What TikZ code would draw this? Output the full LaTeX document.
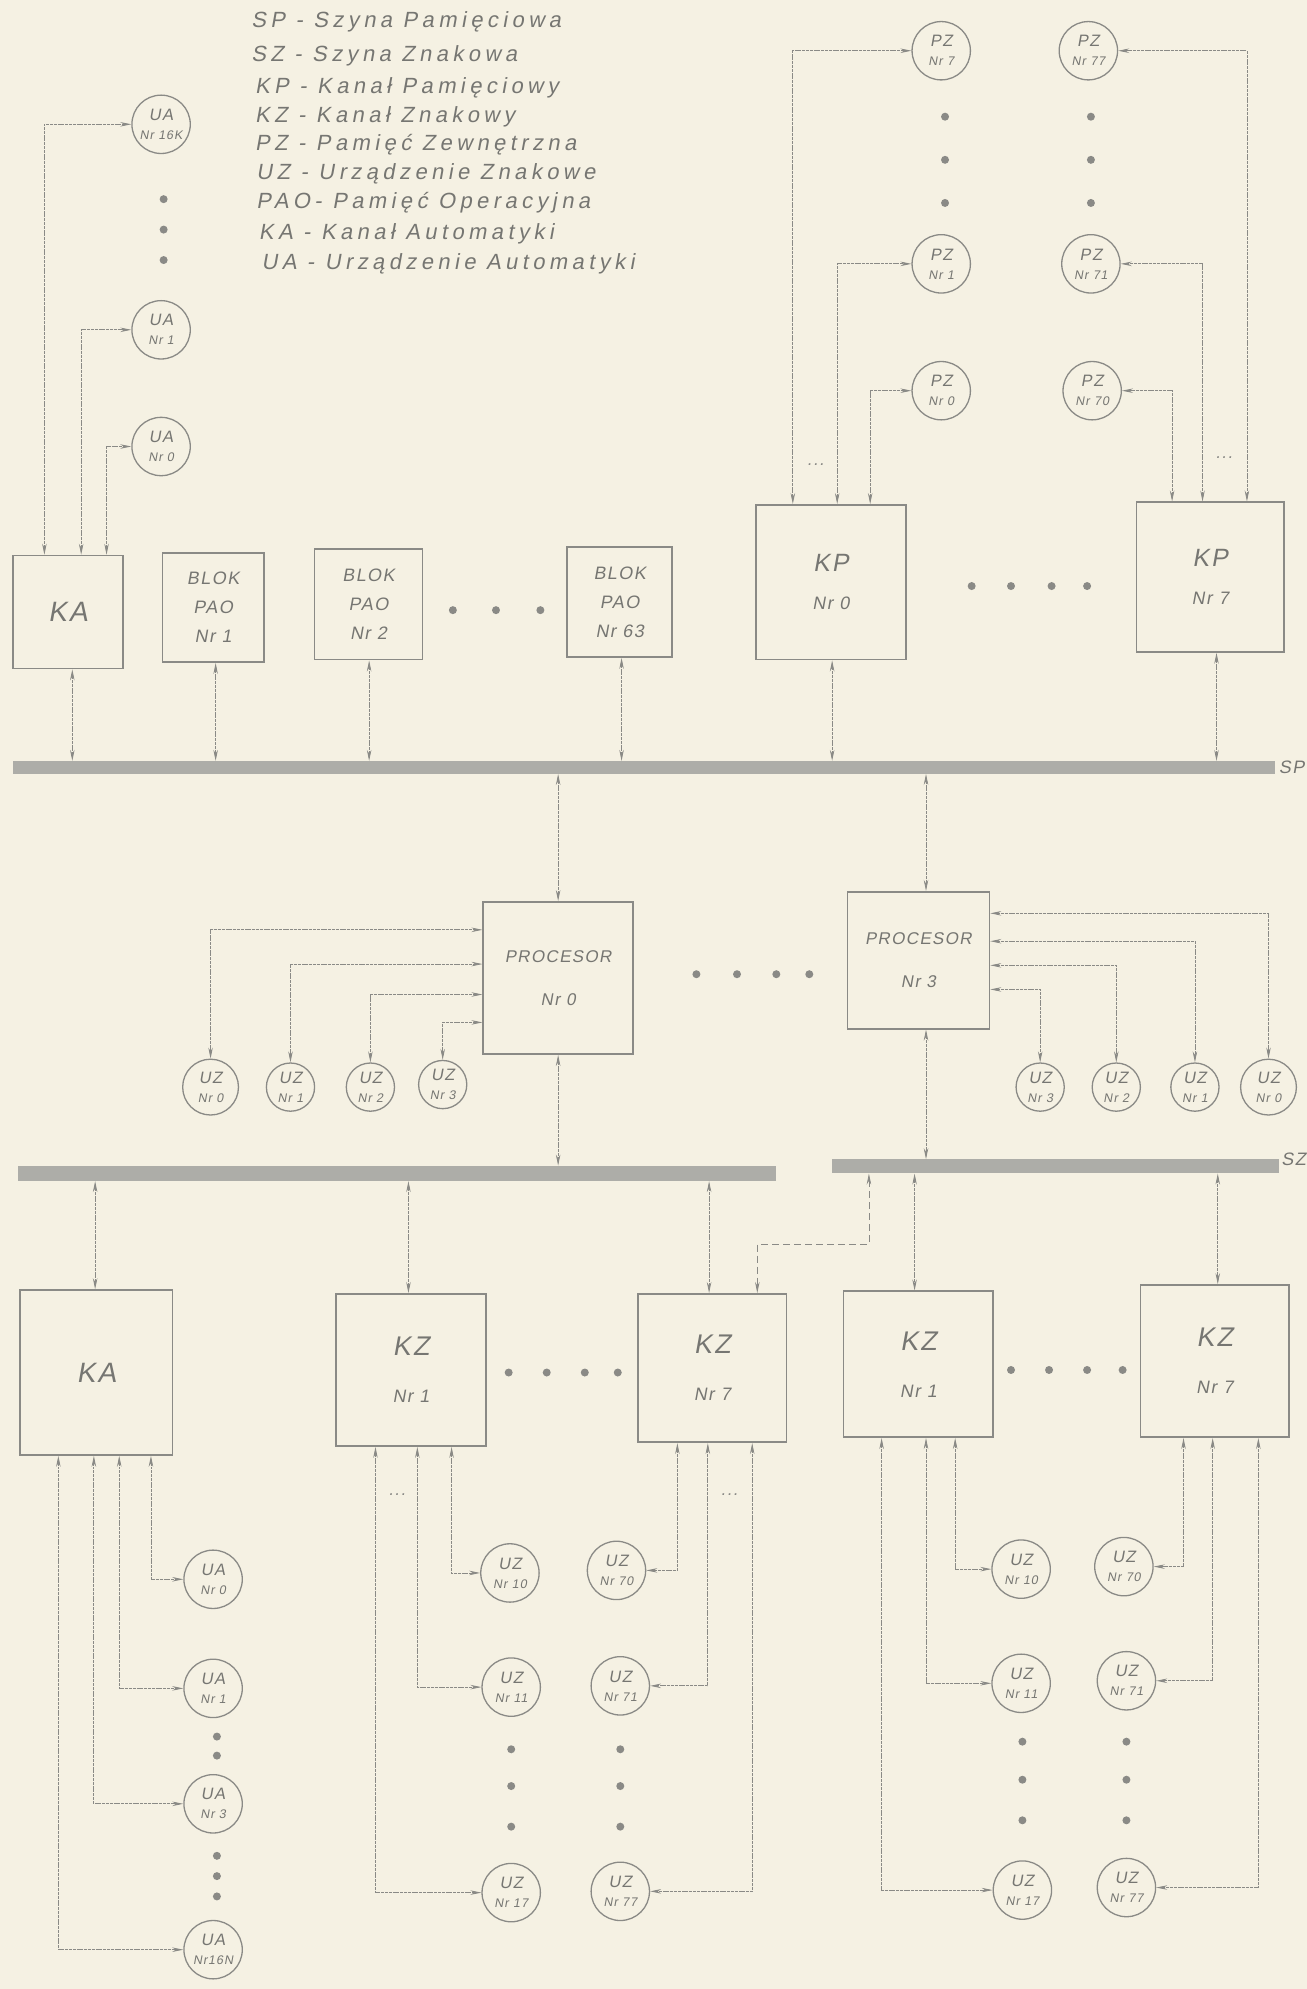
\documentclass[tikz,border=0pt]{standalone}
\usepackage{fontspec}
\newfontfamily\hw{Liberation Sans}[FakeSlant=0.18,LetterSpace=20]
\newfontfamily\hb{Liberation Sans}[FakeSlant=0.18,LetterSpace=8]
\usetikzlibrary{arrows.meta}
\definecolor{bg}{HTML}{F5F1E3}
\definecolor{lc}{HTML}{8A8A86}
\definecolor{tc}{HTML}{767672}
\definecolor{busc}{HTML}{ADADA8}
\newcommand\szA{\fontsize{28}{30}\selectfont}
\newcommand\szC{\fontsize{16.5}{18}\selectfont}
\newcommand\szE{\fontsize{25}{30}\selectfont}
\newcommand\szG{\fontsize{27}{30}\selectfont}
\begin{document}
\begin{tikzpicture}[x=1.269pt,y=-1.269pt,
  bx/.style 2 args={draw=lc,line width=1.7pt,rectangle,minimum width=#1*1.269pt,minimum height=#2*1.269pt,inner sep=0pt,align=center,text=tc,font=\hb},
  cr/.style={draw=lc,line width=1.3pt,circle,minimum size=#1*2.538pt,inner sep=0pt,align=center,text=tc,font=\hb\fontsize{12.5}{19}\selectfont},
  tB/.style={font=\hb\fontsize{18}{29}\selectfont},
  tK/.style={font=\hb\fontsize{18}{38}\selectfont},
  tP/.style={font=\hb\fontsize{17}{43}\selectfont},
  tZ/.style={font=\hb\fontsize{18}{47}\selectfont},
  ln/.style={draw=lc,line width=0.8pt,dash pattern=on 3pt off 0.8pt,{Stealth[length=11pt,width=4.5pt]}-{Stealth[length=11pt,width=4.5pt]}},
  dt/.style={fill=lc,circle,inner sep=0pt,minimum size=8pt},
  bus/.style 2 args={fill=busc,rectangle,inner sep=0pt,minimum width=#1*1.269pt,minimum height=#2*1.269pt},
  lg/.style={text=tc,font=\hw\fontsize{22}{24}\selectfont,inner sep=0pt,anchor=west},
  ell/.style={text=lc,font=\hb\fontsize{17}{17}\selectfont,inner sep=0pt},
  bl/.style={text=tc,font=\hb\fontsize{18}{20}\selectfont,inner sep=0pt,anchor=west}
]
\fill[bg] (0,0) rectangle (1030,1568);
\foreach \v in {35,64,84,57,170,291,490,656,959,625,660,686,983,948,924,440,730,75,74,322,559,597,685,721,960,119,94,46,356,329,296,534,558,593,753,730,695,933,956,992}
  \coordinate (x\v) at (\v,0);
\foreach \v in {733,760,784,806,720,742,761,780}
  \coordinate (y\v) at (0,\v);
\coordinate (dj) at (597,981);

% legend
\node[lg] (l1) at (198,17) {SP - Szyna Pamięciowa};
\node[lg] (l2) at (198,44) {SZ - Szyna Znakowa};
\node[lg] (l3) at (201,69) {KP - Kanał Pamięciowy};
\node[lg] (l4) at (201,92) {KZ - Kanał Znakowy};
\node[lg] (l5) at (201,114) {PZ - Pamięć Zewnętrzna};
\node[lg] (l6) at (202,137) {UZ - Urządzenie Znakowe};
\node[lg] (l7) at (202,160) {PAO- Pamięć Operacyjna};
\node[lg] (l8) at (204,184) {KA - Kanał Automatyki};
\node[lg] (l9) at (206,208) {UA - Urządzenie Automatyki};

% top row of boxes
\node[bx={87}{89}] (kat) at (53.5,482.5) {\szA KA};
\node[bx={80}{86},tB] (pao1) at (168,479) {BLOK\\PAO\\Nr 1};
\node[bx={85}{87},tB] (pao2) at (290.5,476.5) {BLOK\\PAO\\Nr 2};
\node[bx={83}{87},tB] (pao63) at (488.5,474.5) {BLOK\\PAO\\Nr 63};
\node[bx={118}{122},tK] (kp0) at (655,459) {\szE KP\\Nr 0};
\node[bx={116}{118},tK] (kp7) at (954,455) {\szE KP\\Nr 7};
\node[dt] (da1) at (357,481) {};
\node[dt] (da2) at (391,481) {};
\node[dt] (da3) at (426,481) {};
\node[dt] (db1) at (766,462) {};
\node[dt] (db2) at (797,462) {};
\node[dt] (db3) at (829,462) {};
\node[dt] (db4) at (857,462) {};

% top UA
\node[cr=23] (ua16) at (127,98) {\szC UA\\Nr 16K};
\node[cr=23] (ua1) at (127,260) {\szC UA\\Nr 1};
\node[cr=23] (ua0) at (127,352) {\szC UA\\Nr 0};
\node[dt] (dc1) at (129,157) {};
\node[dt] (dc2) at (129,181) {};
\node[dt] (dc3) at (129,205) {};
\draw[ln] (kat.north -| x35) |- (ua16.west);
\draw[ln] (kat.north -| x64) |- (ua1.west);
\draw[ln] (kat.north -| x84) |- (ua0.west);

% PZ
\node[cr=23] (pz7) at (742,40) {\szC PZ\\Nr 7};
\node[cr=23] (pz1) at (742,208) {\szC PZ\\Nr 1};
\node[cr=23] (pz0) at (742,308) {\szC PZ\\Nr 0};
\node[cr=23] (pz77) at (858,40) {\szC PZ\\Nr 77};
\node[cr=23] (pz71) at (860,208) {\szC PZ\\Nr 71};
\node[cr=23] (pz70) at (861,308) {\szC PZ\\Nr 70};
\node[dt] (dd1) at (745,92) {};
\node[dt] (dd2) at (745,126) {};
\node[dt] (dd3) at (745,160) {};
\node[dt] (de1) at (860,92) {};
\node[dt] (de2) at (860,126) {};
\node[dt] (de3) at (860,160) {};
\draw[ln] (kp0.north -| x625) |- (pz7.west);
\draw[ln] (kp0.north -| x660) |- (pz1.west);
\draw[ln] (kp0.north -| x686) |- (pz0.west);
\draw[ln] (kp7.north -| x983) |- (pz77.east);
\draw[ln] (kp7.north -| x948) |- (pz71.east);
\draw[ln] (kp7.north -| x924) |- (pz70.east);
\node[ell] (e1) at (643,366) {...};
\node[ell] (e2) at (965,361) {...};

% SP bus
\node[bus={995}{10}] (sp) at (507.5,605) {};
\node[bl] (spl) at (1008,605) {SP};
\draw[ln] (kat.south -| x57) -- (sp.north -| x57);
\draw[ln] (pao1.south -| x170) -- (sp.north -| x170);
\draw[ln] (pao2.south -| x291) -- (sp.north -| x291);
\draw[ln] (pao63.south -| x490) -- (sp.north -| x490);
\draw[ln] (kp0.south -| x656) -- (sp.north -| x656);
\draw[ln] (kp7.south -| x959) -- (sp.north -| x959);

% processors
\node[bx={118}{120},tP] (p0) at (440,771) {PROCESOR\\Nr 0};
\node[bx={112}{108},tP] (p3) at (724,757) {PROCESOR\\Nr 3};
\node[dt] (df1) at (549,768) {};
\node[dt] (df2) at (581,768) {};
\node[dt] (df3) at (612,768) {};
\node[dt] (df4) at (638,768) {};
\draw[ln] (sp.south -| x440) -- (p0.north -| x440);
\draw[ln] (sp.south -| x730) -- (p3.north -| x730);

\node[cr=22] (uzl0) at (166,857) {\szC UZ\\Nr 0};
\node[cr=19] (uzl1) at (229,857) {\szC UZ\\Nr 1};
\node[cr=19] (uzl2) at (292,857) {\szC UZ\\Nr 2};
\node[cr=19] (uzl3) at (349,855) {\szC UZ\\Nr 3};
\draw[ln] (p0.west |- y733) -| (uzl0.north);
\draw[ln] (p0.west |- y760) -| (uzl1.north);
\draw[ln] (p0.west |- y784) -| (uzl2.north);
\draw[ln] (p0.west |- y806) -| (uzl3.north);

\node[cr=19] (uzr3) at (820,857) {\szC UZ\\Nr 3};
\node[cr=19] (uzr2) at (880,857) {\szC UZ\\Nr 2};
\node[cr=19] (uzr1) at (942,857) {\szC UZ\\Nr 1};
\node[cr=22] (uzr0) at (1000,857) {\szC UZ\\Nr 0};
\draw[ln] (p3.east |- y720) -| (uzr0.north);
\draw[ln] (p3.east |- y742) -| (uzr1.north);
\draw[ln] (p3.east |- y761) -| (uzr2.north);
\draw[ln] (p3.east |- y780) -| (uzr3.north);

% SZ buses
\node[bus={598}{12}] (szl) at (313,925) {};
\node[bus={352}{11}] (szr) at (832,919.5) {};
\node[bl] (szlbl) at (1010,914) {SZ};
\draw[ln] (p0.south -| x440) -- (szl.north -| x440);
\draw[ln] (p3.south -| x730) -- (szr.north -| x730);

% bottom boxes
\node[bx={120}{130}] (kab) at (76,1082) {\szA KA};
\node[bx={118}{120},tZ] (kz1) at (324,1080) {\szG KZ\\Nr 1};
\node[bx={117}{117},tZ] (kz7) at (561.5,1078.5) {\szG KZ\\Nr 7};
\node[bx={118}{115},tZ] (kz1r) at (724,1075.5) {\szG KZ\\Nr 1};
\node[bx={117}{120},tZ] (kz7r) at (957.5,1073) {\szG KZ\\Nr 7};
\node[dt] (dg1) at (401,1082) {};
\node[dt] (dg2) at (431,1082) {};
\node[dt] (dg3) at (461,1082) {};
\node[dt] (dg4) at (487,1082) {};
\node[dt] (dh1) at (797,1080) {};
\node[dt] (dh2) at (827,1080) {};
\node[dt] (dh3) at (857,1080) {};
\node[dt] (dh4) at (885,1080) {};
\draw[ln] (szl.south -| x75) -- (kab.north -| x75);
\draw[ln] (szl.south -| x322) -- (kz1.north -| x322);
\draw[ln] (szl.south -| x559) -- (kz7.north -| x559);
\draw[ln] (szr.south -| x721) -- (kz1r.north -| x721);
\draw[ln] (szr.south -| x960) -- (kz7r.north -| x960);
\draw[ln,dash pattern=on 7pt off 4pt] (szr.south -| x685) |- (dj) -- (kz7.north -| dj);

% bottom UA
\node[cr=23] (ua0b) at (168,1245) {\szC UA\\Nr 0};
\node[cr=23] (ua1b) at (168,1331) {\szC UA\\Nr 1};
\node[cr=23] (ua3b) at (168,1422) {\szC UA\\Nr 3};
\node[cr=23] (ua16b) at (168,1537) {\szC UA\\Nr16N};
\node[dt] (di1) at (171,1369) {};
\node[dt] (di2) at (171,1384) {};
\node[dt] (di3) at (171,1463) {};
\node[dt] (di4) at (171,1479) {};
\node[dt] (di5) at (171,1495) {};
\draw[ln] (kab.south -| x119) |- (ua0b.west);
\draw[ln] (kab.south -| x94) |- (ua1b.west);
\draw[ln] (kab.south -| x74) |- (ua3b.west);
\draw[ln] (kab.south -| x46) |- (ua16b.west);

% bottom UZ left group
\node[cr=23] (uz10) at (402,1240) {\szC UZ\\Nr 10};
\node[cr=23] (uz11) at (403,1330) {\szC UZ\\Nr 11};
\node[cr=23] (uz17) at (403,1492) {\szC UZ\\Nr 17};
\node[cr=23] (uz70) at (486,1238) {\szC UZ\\Nr 70};
\node[cr=23] (uz71) at (489,1329) {\szC UZ\\Nr 71};
\node[cr=23] (uz77) at (489,1491) {\szC UZ\\Nr 77};
\node[dt] (dj1) at (403,1379) {};
\node[dt] (dj2) at (403,1408) {};
\node[dt] (dj3) at (403,1440) {};
\node[dt] (dk1) at (489,1379) {};
\node[dt] (dk2) at (489,1408) {};
\node[dt] (dk3) at (489,1440) {};
\draw[ln] (kz1.south -| x356) |- (uz10.west);
\draw[ln] (kz1.south -| x329) |- (uz11.west);
\draw[ln] (kz1.south -| x296) |- (uz17.west);
\draw[ln] (kz7.south -| x534) |- (uz70.east);
\draw[ln] (kz7.south -| x558) |- (uz71.east);
\draw[ln] (kz7.south -| x593) |- (uz77.east);
\node[ell] (e3) at (313,1178) {...};
\node[ell] (e4) at (575,1178) {...};

% bottom UZ right group
\node[cr=23] (uz10r) at (805,1237) {\szC UZ\\Nr 10};
\node[cr=23] (uz11r) at (805,1327) {\szC UZ\\Nr 11};
\node[cr=23] (uz17r) at (806,1490) {\szC UZ\\Nr 17};
\node[cr=23] (uz70r) at (886,1235) {\szC UZ\\Nr 70};
\node[cr=23] (uz71r) at (888,1325) {\szC UZ\\Nr 71};
\node[cr=23] (uz77r) at (888,1488) {\szC UZ\\Nr 77};
\node[dt] (dl1) at (806,1373) {};
\node[dt] (dl2) at (806,1403) {};
\node[dt] (dl3) at (806,1435) {};
\node[dt] (dm1) at (888,1373) {};
\node[dt] (dm2) at (888,1403) {};
\node[dt] (dm3) at (888,1435) {};
\draw[ln] (kz1r.south -| x753) |- (uz10r.west);
\draw[ln] (kz1r.south -| x730) |- (uz11r.west);
\draw[ln] (kz1r.south -| x695) |- (uz17r.west);
\draw[ln] (kz7r.south -| x933) |- (uz70r.east);
\draw[ln] (kz7r.south -| x956) |- (uz71r.east);
\draw[ln] (kz7r.south -| x992) |- (uz77r.east);
\end{tikzpicture}
\end{document}
